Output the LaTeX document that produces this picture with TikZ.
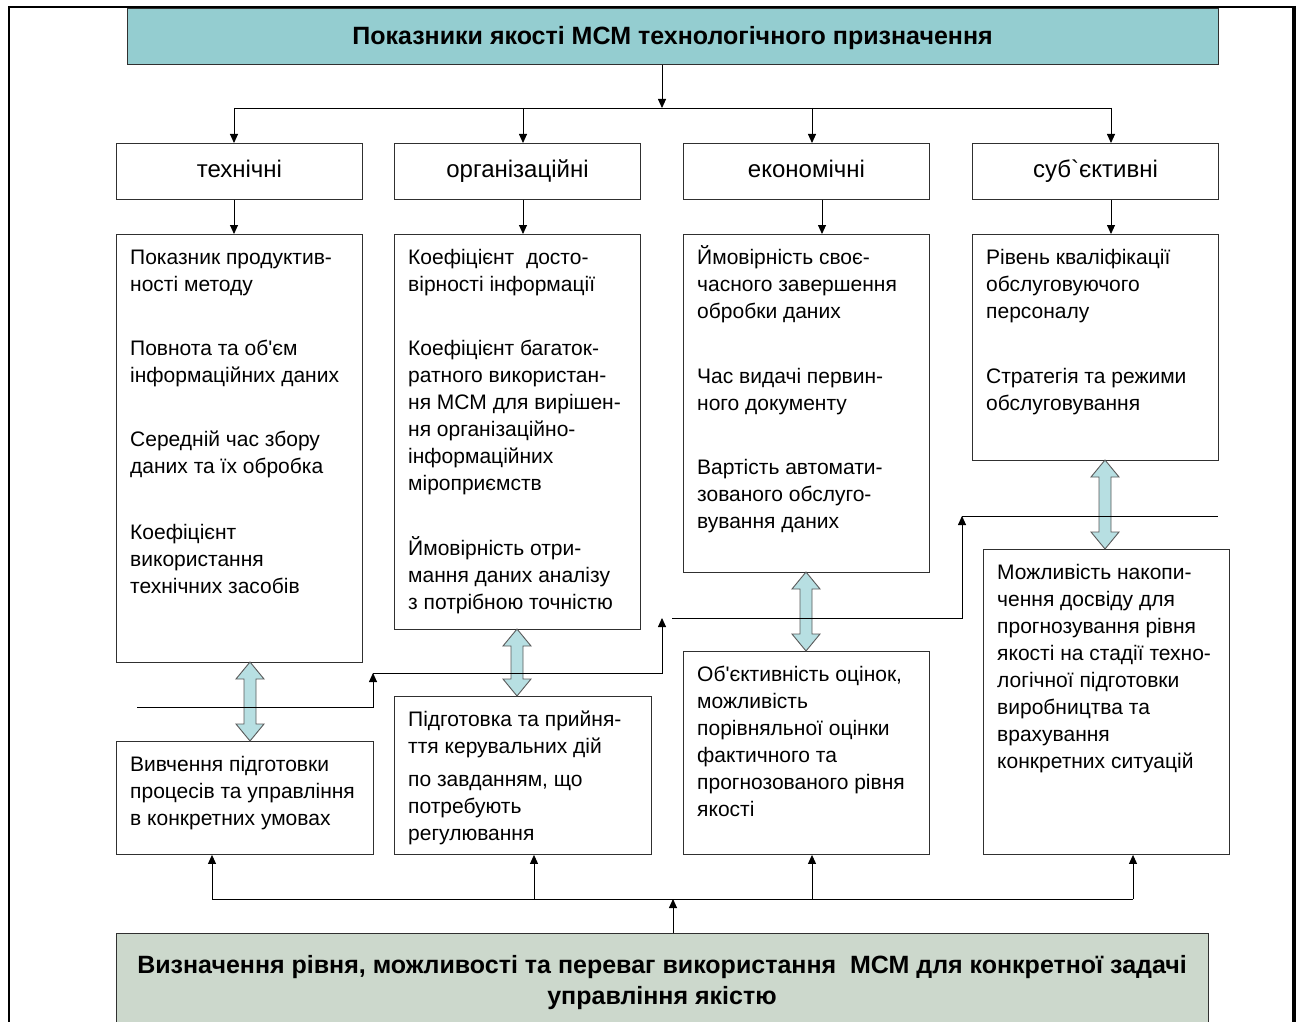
\documentclass[tikz,border=0pt]{standalone}
\usepackage{fontspec}
\setmainfont{Liberation Sans}
\usetikzlibrary{arrows.meta}
\definecolor{titlefill}{HTML}{94CDD0}
\definecolor{bottomfill}{HTML}{CCD8CC}
\definecolor{dblfill}{HTML}{B7DFE2}
\definecolor{boxline}{HTML}{303030}
\newcommand\dblarr[3]{%
  \draw[dblarrow] (#1,#2) -- (#1+14,#2+17) -- (#1+6,#2+17) -- (#1+6,#3-17) -- (#1+14,#3-17)
    -- (#1,#3) -- (#1-14,#3-17) -- (#1-6,#3-17) -- (#1-6,#2+17) -- (#1-14,#2+17) -- cycle;}
\begin{document}
\begin{tikzpicture}[x=1pt,y=-1pt,
  box/.style={draw=boxline, line width=0.9pt, rectangle, inner sep=0pt, anchor=north west},
  cattext/.style={font=\fontsize{24}{28}\selectfont, inner sep=0pt, text height=17pt, text depth=5pt},
  txt/.style={font=\fontsize{21}{27}\selectfont, align=left, inner sep=0pt, anchor=north west},
  arr/.style={-{Triangle[length=9pt,width=8pt]}, line width=0.9pt},
  ln/.style={line width=0.9pt},
  dblarrow/.style={draw=black!65, fill=dblfill, line width=0.9pt, line join=miter}]
\useasboundingbox (0,0) rectangle (1301,1022);
% outer frame
\draw[line width=2pt] (9,1030) -- (9,7) -- (1295,7);
\draw[line width=3.4pt] (1294,6) -- (1294,1030);
% title
\node[box, fill=titlefill, minimum width=1091pt, minimum height=56pt] (title) at (127,8) {};
\node[font=\bfseries\fontsize{25}{29}\selectfont, inner sep=0pt, anchor=base] (titlet) at (672.5,45) {Показники якості МСМ технологічного призначення};
% categories
\node[box, minimum width=246pt, minimum height=56pt] (c1) at (116,143) {};
\node[box, minimum width=246pt, minimum height=56pt] (c2) at (394,143) {};
\node[box, minimum width=246pt, minimum height=56pt] (c3) at (683,143) {};
\node[box, minimum width=246pt, minimum height=56pt] (c4) at (972,143) {};
\node[cattext] (c1t) at (c1.center) {технічні};
\node[cattext] (c2t) at (c2.center) {організаційні};
\node[cattext] (c3t) at (c3.center) {економічні};
\node[cattext] (c4t) at (c4.center) {суб\textasciigrave єктивні};
% detail boxes
\node[box, minimum width=246pt, minimum height=428pt] (d1) at (116,234) {};
\node[box, minimum width=246pt, minimum height=395pt] (d2) at (394,234) {};
\node[box, minimum width=246pt, minimum height=338pt] (d3) at (683,234) {};
\node[box, minimum width=246pt, minimum height=226pt] (d4) at (972,234) {};
\node[txt] (d1t) at ([xshift=14pt,yshift=-11pt]d1.north west) {\strut Показник продуктив-\\ ності методу\\[37pt]
  Повнота та об\textquotesingle єм\\ інформаційних даних\\[37pt]
  Середній час збору\\ даних та їх обробка\\[39pt]
  Коефіцієнт\\ використання\\ технічних засобів};
\node[txt] (d2t) at ([xshift=14pt,yshift=-11pt]d2.north west) {\strut Коефіцієнт\ \ досто-\\ вірності інформації\\[37pt]
  Коефіцієнт багаток-\\ ратного використан-\\ ня МСМ для вирішен-\\ ня організаційно-\\ інформаційних\\ міроприємств\\[38pt]
  Ймовірність отри-\\ мання даних аналізу\\ з потрібною точністю};
\node[txt] (d3t) at ([xshift=14pt,yshift=-11pt]d3.north west) {\strut Ймовірність своє-\\ часного завершення\\ обробки даних\\[38pt]
  Час видачі первин-\\ ного документу\\[37pt]
  Вартість автомати-\\ зованого обслуго-\\ вування даних};
\node[txt] (d4t) at ([xshift=14pt,yshift=-11pt]d4.north west) {\strut Рівень кваліфікації\\ обслуговуючого\\ персоналу\\[38pt]
  Стратегія та режими\\ обслуговування};
% lower boxes
\node[box, minimum width=257pt, minimum height=113pt] (b1) at (116,741) {};
\node[box, minimum width=257pt, minimum height=158pt] (b2) at (394,696) {};
\node[box, minimum width=246pt, minimum height=203pt] (b3) at (683,651) {};
\node[box, minimum width=246pt, minimum height=305pt] (b4) at (983,549) {};
\node[txt] (b1t) at ([xshift=14pt,yshift=-11pt]b1.north west) {\strut Вивчення підготовки\\ процесів та управління\\ в конкретних умовах};
\node[txt] (b2t) at ([xshift=14pt,yshift=-11pt]b2.north west) {\strut Підготовка та прийня-\\ ття керувальних дій\\[6pt]
  по завданням, що\\ потребують\\ регулювання};
\node[txt] (b3t) at ([xshift=14pt,yshift=-11pt]b3.north west) {\strut Об\textquotesingle єктивність оцінок,\\ можливість\\ порівняльної оцінки\\ фактичного та\\ прогнозованого рівня\\ якості};
\node[txt] (b4t) at ([xshift=14pt,yshift=-11pt]b4.north west) {\strut Можливість накопи-\\ чення досвіду для\\ прогнозування рівня\\ якості на стадії техно-\\ логічної підготовки\\ виробництва та\\ врахування\\ конкретних ситуацій};
% bottom box
\node[box, fill=bottomfill, minimum width=1092pt, minimum height=100pt] (bot) at (116,933) {};
\node[font=\bfseries\fontsize{25}{31}\selectfont, align=center, inner sep=0pt, anchor=north] (bott) at (662,951.5) {\strut Визначення рівня, можливості та переваг використання\ \ МСМ для конкретної задачі\\ управління якістю};
% top bus
\coordinate (hub) at (662,108);
\draw[arr] (title.south -| hub) -- (hub);
\draw[ln] (234,108) -- (1111,108);
\draw[arr] (234,108) -- (234,108 |- c1.north);
\draw[arr] (523,108) -- (523,108 |- c2.north);
\draw[arr] (812,108) -- (812,108 |- c3.north);
\draw[arr] (1111,108) -- (1111,108 |- c4.north);
% category to detail
\draw[arr] (234,0 |- c1.south) -- (234,0 |- d1.north);
\draw[arr] (523,0 |- c2.south) -- (523,0 |- d2.north);
\draw[arr] (822,0 |- c3.south) -- (822,0 |- d3.north);
\draw[arr] (1111,0 |- c4.south) -- (1111,0 |- d4.north);
% double arrows
\dblarr{250}{662}{741}
\dblarr{517}{629}{696}
\dblarr{806}{572}{651}
\dblarr{1105}{460}{549}
% staircase
\coordinate (s0) at (137,707);
\coordinate (s1) at (373,673);
\coordinate (s2) at (662,618);
\coordinate (s3) at (962,516);
\coordinate (s4) at (1218,516);
\draw[arr] (s0) -| (s1);
\draw[arr] (s1) -| (s2);
\draw[arr] (672,618) -| (s3);
\draw[ln] (s3) -- (s4);
% bottom bus
\coordinate (bhub) at (673,899);
\draw[arr] (bot.north -| bhub) -- (bhub);
\draw[ln] (212,899) -- (1133,899);
\draw[arr] (212,899) -- (212,899 |- b1.south);
\draw[arr] (534,899) -- (534,899 |- b2.south);
\draw[arr] (812,899) -- (812,899 |- b3.south);
\draw[arr] (1133,899) -- (1133,899 |- b4.south);
\end{tikzpicture}
\end{document}
